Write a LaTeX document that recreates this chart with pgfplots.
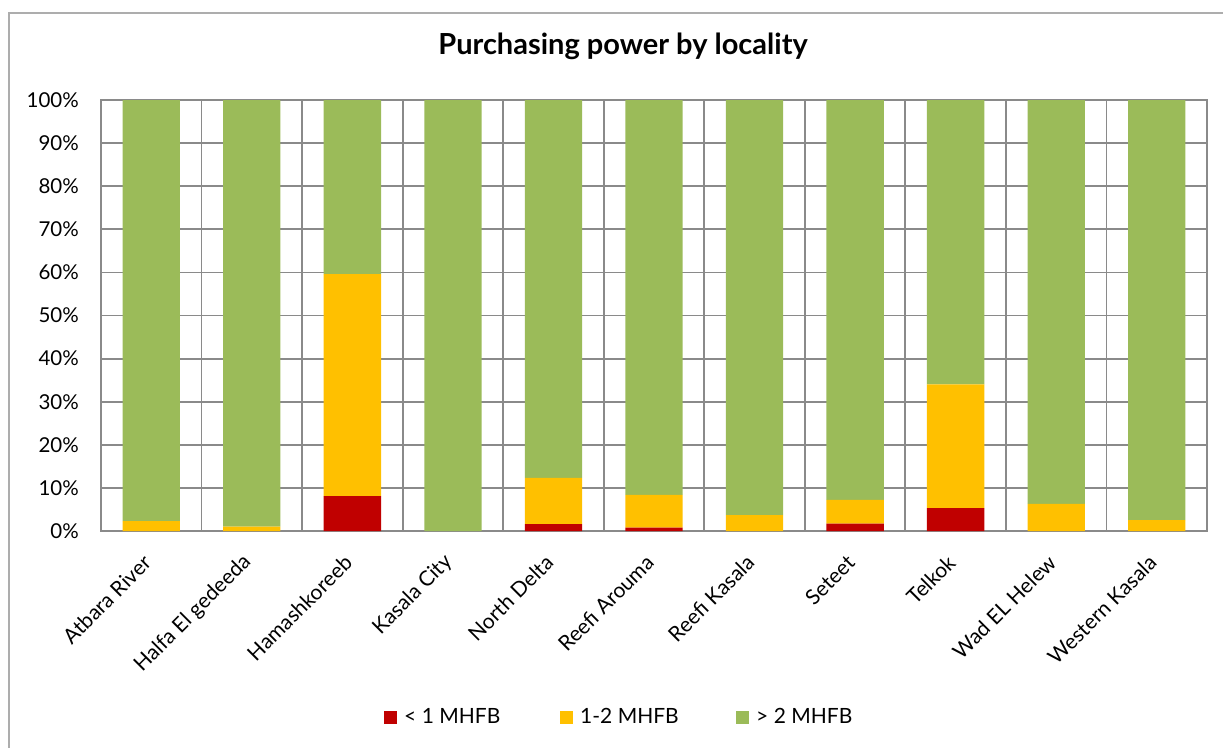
\documentclass[border=0pt]{standalone}
\usepackage{fontspec}
\setmainfont{Lato}
\usepackage{pgfplots}
\pgfplotsset{compat=1.18}
\definecolor{cRed}{HTML}{C00000}
\definecolor{cYel}{HTML}{FFC000}
\definecolor{cGrn}{HTML}{9BBB59}
\definecolor{cGrid}{HTML}{8A8A8A}
\begin{document}
\begin{tikzpicture}
\useasboundingbox (0,0) rectangle (1223pt,-747pt);
\draw[cGrid!70, line width=1.2pt] (9pt,-13pt) rectangle (1260pt,-780pt);
\begin{axis}[
  at={(101pt,-531pt)}, anchor=south west,
  scale only axis, width=1106pt, height=431pt,
  ybar stacked, bar width=0.57,
  xmin=-0.5, xmax=10.5, ymin=0, ymax=100,
  xtick={0,...,10},
  xticklabels={Atbara River, Halfa El gedeeda, Hamashkoreeb, Kasala City, North Delta, Reefi Arouma, Reefi Kasala, Seteet, Telkok, Wad EL Helew, Western Kasala},
  minor xtick={-0.5,0.5,...,10.5},
  xminorgrids=true, ymajorgrids=true,
  minor grid style={cGrid, line width=1.8pt},
  major grid style={cGrid, line width=1.8pt},
  axis line style={cGrid, line width=1.8pt},
  major tick length=0pt, minor tick length=0pt,
  ytick={0,10,...,100},
  /pgf/number format/assume math mode=true,
  yticklabel={\pgfmathprintnumber{\tick}\%},
  yticklabel style={font=\fontsize{20.5}{24}\selectfont, anchor=east, inner sep=0pt, xshift=-22pt},
  xticklabel style={font=\fontsize{21}{25}\selectfont, anchor=east, inner sep=0pt, xshift=-4pt, yshift=-28pt, rotate=45},
  title={\textbf{Purchasing power by locality}},
  title style={font=\fontsize{29}{34}\selectfont, at={(0.472,1.111)}, anchor=center},
  legend style={draw=none, at={(0.2559,-0.4316)}, anchor=west, legend columns=-1,
    inner sep=0pt, font=\fontsize{21}{25}\selectfont,
    /tikz/every odd column/.append style={column sep=5pt}},
]
\addplot[fill=cRed, draw=none, legend image code/.code={\fill[cRed] (0pt,-6.5pt) rectangle (13pt,6.5pt);}]
  coordinates {(0,0) (1,0) (2,8.1) (3,0) (4,1.6) (5,0.8) (6,0) (7,1.7) (8,5.3) (9,0) (10,0)};
\addplot[fill=cYel, draw=none, legend image code/.code={\fill[cYel] (0pt,-6.5pt) rectangle (13pt,6.5pt);}]
  coordinates {(0,2.3) (1,1.0) (2,51.5) (3,0) (4,10.7) (5,7.6) (6,3.7) (7,5.5) (8,28.7) (9,6.3) (10,2.5)};
\addplot[fill=cGrn, draw=none, legend image code/.code={\fill[cGrn] (0pt,-6.5pt) rectangle (13pt,6.5pt);}]
  coordinates {(0,97.7) (1,99.0) (2,40.4) (3,100) (4,87.7) (5,91.6) (6,96.3) (7,92.8) (8,66.0) (9,93.7) (10,97.5)};
\legend{\makebox[154pt][l]{< 1 MHFB}, \makebox[154pt][l]{1-2 MHFB}, > 2 MHFB}
\end{axis}
\end{tikzpicture}
\end{document}
